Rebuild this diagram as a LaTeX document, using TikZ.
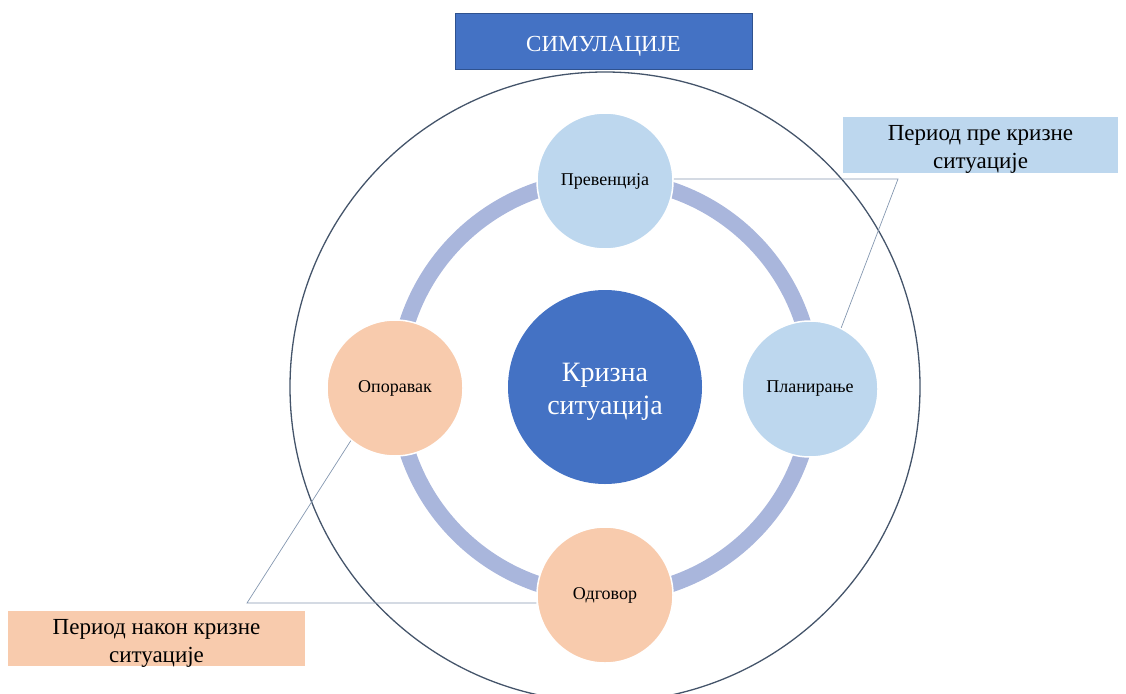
\documentclass[tikz,border=0pt]{standalone}
\usepackage{fontspec}
\setmainfont{Liberation Serif}
\usetikzlibrary{positioning,calc}
\definecolor{mainblue}{HTML}{4472C4}
\definecolor{edgeblue}{HTML}{2F528F}
\definecolor{paleblue}{HTML}{BDD7EE}
\definecolor{peach}{HTML}{F8CBAD}
\definecolor{ringblue}{HTML}{A9B6DC}
\definecolor{rimgray}{HTML}{44546A}
\definecolor{leadgray}{HTML}{8497B0}

\begin{document}
\begin{tikzpicture}[x=1pt,y=-1pt,
    phase/.style={circle,draw=white,line width=1.5pt,minimum size=136pt,
        inner sep=0pt,font=\fontsize{18}{21}\selectfont},
    periodbox/.style={rectangle,inner sep=0pt,align=center,
        text height=51pt,text depth=4pt,
        font=\fontsize{23}{28}\selectfont},
    leader/.style={draw=leadgray,line width=0.7pt}]
    \useasboundingbox (0,0) rectangle (1126,693);
    \clip (0,0) rectangle (1126,693);
    % Title bar
    \node (title) [rectangle,fill=mainblue,draw=edgeblue,line width=0.8pt,
        minimum width=297pt,minimum height=56pt,text=white,inner sep=0pt,
        text height=24pt,text depth=2pt,
        font=\fontsize{23}{27}\selectfont] at (603.5,41) {СИМУЛАЦИЈЕ};
    % Outer rim and the ring joining the phases
    \coordinate (mid) at (605,387);
    \draw[rimgray,line width=1.3pt] (mid) circle (315);
    \draw[ringblue,line width=16pt] (mid) circle (208);
    % Centre circle
    \node (crisis) [circle,fill=mainblue,minimum size=194pt,inner sep=0pt,
        text=white,align=center,text height=60pt,text depth=6pt,
        font=\fontsize{28}{33}\selectfont] at (mid) {Кризна\\ситуација};
    % Four phases on the ring
    \node (prev) [phase,fill=paleblue] at (605,181) {Превенција};
    \node (plan) [phase,fill=paleblue] at (810,389) {Планирање};
    \node (resp) [phase,fill=peach] at (605,595) {Одговор};
    \node (recov) [phase,fill=peach] at (395,388) {Опоравак};
    % Period labels
    \node (before) [periodbox,fill=paleblue,minimum width=275pt,
        minimum height=56pt] at (980.5,145) {Период пре кризне\\ситуације};
    \node (after) [periodbox,fill=peach,minimum width=297pt,
        minimum height=55pt] at (156.5,638.5) {Период након кризне\\ситуације};
    % Leader lines grouping the phases
    \coordinate (beforeknee) at (898,179);
    \coordinate (afterknee) at (247,603);
    \draw[leader] (prev.east |- beforeknee) -- (beforeknee) -- (plan.63);
    \draw[leader] (resp.west |- afterknee) -- (afterknee) -- (recov.230);
\end{tikzpicture}
\end{document}
